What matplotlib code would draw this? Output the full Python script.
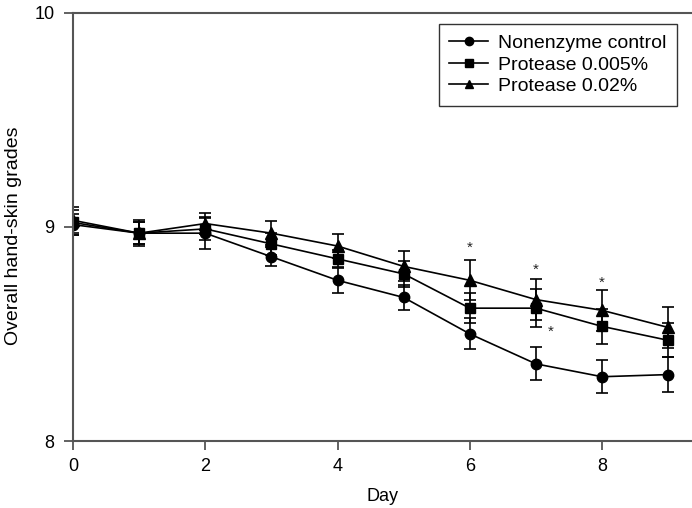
import matplotlib
matplotlib.use("Agg")
import matplotlib.pyplot as plt
from matplotlib.lines import Line2D

plt.rcParams['font.family'] = ['Liberation Sans', 'DejaVu Sans']

days = [0, 1, 2, 3, 4, 5, 6, 7, 8, 9]
control = [9.01, 8.97, 8.97, 8.86, 8.75, 8.67, 8.50, 8.36, 8.30, 8.31]
control_err = [0.05, 0.05, 0.075, 0.045, 0.058, 0.058, 0.072, 0.077, 0.077, 0.08]
p005 = [9.02, 8.97, 8.99, 8.92, 8.85, 8.78, 8.62, 8.62, 8.535, 8.47]
p005_err = [0.06, 0.05, 0.05, 0.05, 0.04, 0.06, 0.07, 0.09, 0.08, 0.08]
p02 = [9.03, 8.97, 9.015, 8.97, 8.91, 8.815, 8.75, 8.66, 8.61, 8.53]
p02_err = [0.06, 0.06, 0.05, 0.056, 0.058, 0.07, 0.094, 0.097, 0.096, 0.096]
labels = ["Nonenzyme control", "Protease 0.005%", "Protease 0.02%"]
star_x = [6, 7, 7.22, 8]
star_y = [8.90, 8.80, 8.51, 8.74]

fig = plt.figure(figsize=(6.92, 5.08), dpi=100)
ax = fig.add_axes([73/692, 1-441/508, 1-73/692, (441-12.5)/508])

series = [(control, control_err, 'o', 7.5), (p005, p005_err, 's', 6.5), (p02, p02_err, '^', 8)]
handles = []
for (vals, err, mk, ms), lab in zip(series, labels):
    ax.errorbar(days, vals, yerr=err, color='black', marker=mk, markersize=ms,
                linewidth=1.2, elinewidth=1.2, capsize=4, capthick=1.2)
    handles.append(Line2D([], [], color='black', marker=mk, markersize=ms * 0.8,
                          linewidth=1.2, label=lab))

for x, y in zip(star_x, star_y):
    ax.text(x, y, '*', ha='center', va='center', fontsize=11, color='#222222')

ax.set_xlim(0, 9.36)
ax.set_ylim(8, 10)
ax.set_xticks([0, 2, 4, 6, 8])
ax.set_yticks([8, 9, 10])
ax.set_xlabel('Day', fontsize=13, labelpad=9)
ax.set_ylabel('Overall hand-skin grades', fontsize=14, labelpad=5)
ax.yaxis.set_label_coords(-0.082, 0.48)
ax.tick_params(direction='out', length=6.5, width=1.3, color='#555555', labelsize=13)
ax.tick_params(axis='x', pad=6)
ax.tick_params(axis='y', pad=7)
for s in ['top', 'left', 'bottom']:
    ax.spines[s].set_color('#555555')
    ax.spines[s].set_linewidth(1.5)
ax.spines['right'].set_visible(False)

leg = ax.legend(handles=handles, loc='upper right', bbox_to_anchor=(677/692, 1 - 24/508),
                bbox_transform=fig.transFigure,
                frameon=True, fancybox=False, edgecolor='black', fontsize=14,
                handlelength=2.0, handletextpad=0.5, labelspacing=0.2, borderpad=0.55,
                borderaxespad=0)
leg.get_frame().set_linewidth(1.0)

fig.savefig('out.png', dpi=100)
